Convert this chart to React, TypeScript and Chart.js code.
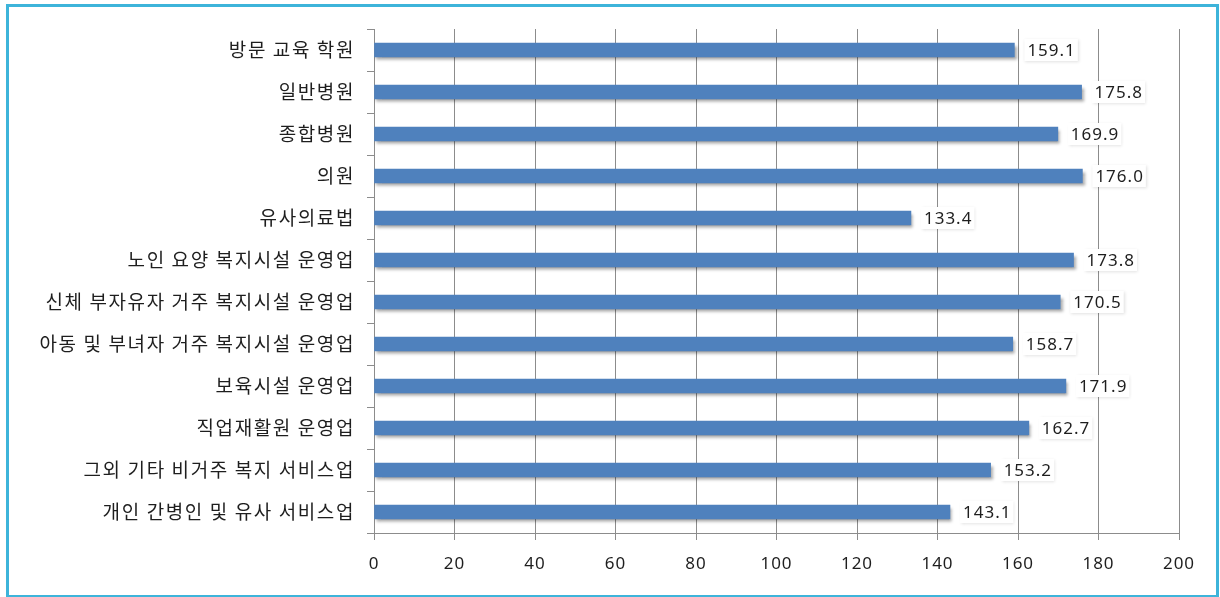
import React, { useEffect, useRef } from "react";
import { Chart, registerables } from "chart.js";

Chart.register(...registerables);

const categories: string[] = [
  "방문 교육 학원",
  "일반병원",
  "종합병원",
  "의원",
  "유사의료법",
  "노인 요양 복지시설 운영업",
  "신체 부자유자 거주 복지시설 운영업",
  "아동 및 부녀자 거주 복지시설 운영업",
  "보육시설 운영업",
  "직업재활원 운영업",
  "그외 기타 비거주 복지 서비스업",
  "개인 간병인 및 유사 서비스업",
];

const values: number[] = [159.1, 175.8, 169.9, 176.0, 133.4, 173.8, 170.5, 158.7, 171.9, 162.7, 153.2, 143.1];

const xMin = 0;
const xMax = 200;
const xStep = 20;

const NUM_FONT = '"Noto Sans", sans-serif';
const KR_FONT = '"Noto Sans CJK KR", sans-serif';

function patchLabels(scale: any, spacing: string) {
  if (!scale || scale.__patched) return;
  const orig = scale.drawLabels.bind(scale);
  scale.drawLabels = (area: any) => {
    const ctx = scale.ctx;
    ctx.save();
    (ctx as any).letterSpacing = spacing;
    orig(area);
    ctx.restore();
  };
  scale.__patched = true;
}

const shadowAndLabels = {
  id: "shadowAndLabels",
  beforeDraw(chart: any) {
    patchLabels(chart.scales.y, "1.6px");
    patchLabels(chart.scales.x, "1px");
  },
  beforeDatasetsDraw(chart: any) {
    const ctx = chart.ctx;
    ctx.save();
    ctx.shadowColor = "rgba(0,0,0,0.35)";
    ctx.shadowBlur = 3;
    ctx.shadowOffsetX = 2;
    ctx.shadowOffsetY = 3;
  },
  afterDatasetsDraw(chart: any) {
    const ctx = chart.ctx;
    ctx.restore();
    const meta = chart.getDatasetMeta(0);
    ctx.save();
    ctx.font = `17px ${NUM_FONT}`;
    (ctx as any).letterSpacing = "1px";
    ctx.textBaseline = "middle";
    ctx.textAlign = "left";
    meta.data.forEach((el: any, i: number) => {
      const text = values[i].toFixed(1);
      const tx = el.x + 13;
      const w = ctx.measureText(text).width;
      ctx.save();
      ctx.shadowColor = "rgba(0,0,0,0.12)";
      ctx.shadowBlur = 3;
      ctx.shadowOffsetX = 1;
      ctx.shadowOffsetY = 1;
      ctx.fillStyle = "#ffffff";
      ctx.fillRect(tx - 3, el.y - 11, w + 5, 22);
      ctx.restore();
      ctx.fillStyle = "#1e1e1e";
      ctx.fillText(text, tx, el.y + 1);
    });
    ctx.restore();
  },
};

export default function App() {
  const canvasRef = useRef<HTMLCanvasElement | null>(null);

  useEffect(() => {
    if (!canvasRef.current) return;
    const chart = new Chart(canvasRef.current, {
      type: "bar",
      data: {
        labels: categories,
        datasets: [
          {
            data: values,
            backgroundColor: "#4f81bd",
            borderWidth: 0,
            barThickness: 14,
          },
        ],
      },
      options: {
        indexAxis: "y",
        animation: false,
        responsive: false,
        maintainAspectRatio: false,
        events: [],
        layout: { padding: { left: 0, top: 29, right: 41, bottom: 0 } },
        plugins: {
          legend: { display: false },
          tooltip: { enabled: false },
          title: { display: false },
        },
        scales: {
          x: {
            type: "linear",
            min: xMin,
            max: xMax,
            ticks: {
              stepSize: xStep,
              color: "#1e1e1e",
              font: { family: NUM_FONT, size: 17 },
              padding: 14,
            },
            grid: {
              color: "#8c8c8c",
              lineWidth: 1,
              tickLength: 7,
              drawOnChartArea: true,
            },
            border: { display: true, color: "#8c8c8c" },
            afterFit: (scale: any) => {
              scale.height = 64;
            },
          },
          y: {
            type: "category",
            ticks: {
              color: "#1e1e1e",
              font: { family: KR_FONT, size: 19 },
              padding: 12,
              autoSkip: false,
            },
            grid: {
              display: true,
              drawOnChartArea: false,
              offset: true,
              color: "#8c8c8c",
              tickLength: 7,
            },
            border: { display: true, color: "#8c8c8c" },
            afterFit: (scale: any) => {
              scale.width = 374;
            },
          },
        },
      },
      plugins: [shadowAndLabels],
    });
    return () => chart.destroy();
  }, []);

  return (
    <div style={{ position: "fixed", left: 0, top: 0, width: 1220, height: 597, background: "#ffffff", overflow: "hidden" }}>
      <canvas ref={canvasRef} width={1220} height={597} style={{ position: "absolute", left: 0, top: 0, width: 1220, height: 597 }} />
      <div
        style={{
          position: "absolute",
          left: 6,
          top: 4,
          width: 1207,
          height: 588,
          border: "3px solid #3db4da",
          pointerEvents: "none",
        }}
      />
    </div>
  );
}
